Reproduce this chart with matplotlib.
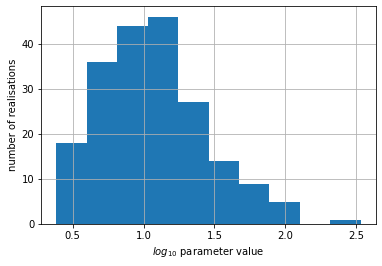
import matplotlib

matplotlib.use("Agg")
import matplotlib.pyplot as plt

# histogram of log10 parameter values (counts)
bin_edges = [0.385, 0.600, 0.815, 1.029, 1.244, 1.459, 1.674, 1.889, 2.103, 2.318, 2.533]
counts = [18, 36, 44, 46, 27, 14, 9, 5, 0, 1]
x_ticks = [0.5, 1.0, 1.5, 2.0, 2.5]
y_ticks = [0, 10, 20, 30, 40]

fig = plt.figure(figsize=(382 / 72, 266 / 72), dpi=72)
ax = fig.add_axes([0.108, 0.157, 0.876, 0.819])

ax.hist(bin_edges[:-1], bins=bin_edges, weights=counts, color="#1f77b4")
ax.grid(True)
ax.set_xticks(x_ticks)
ax.set_yticks(y_ticks)
ax.set_xlabel(r"$log_{10}$ parameter value")
ax.set_ylabel("number of realisations")

fig.savefig("out.png", dpi=72)
